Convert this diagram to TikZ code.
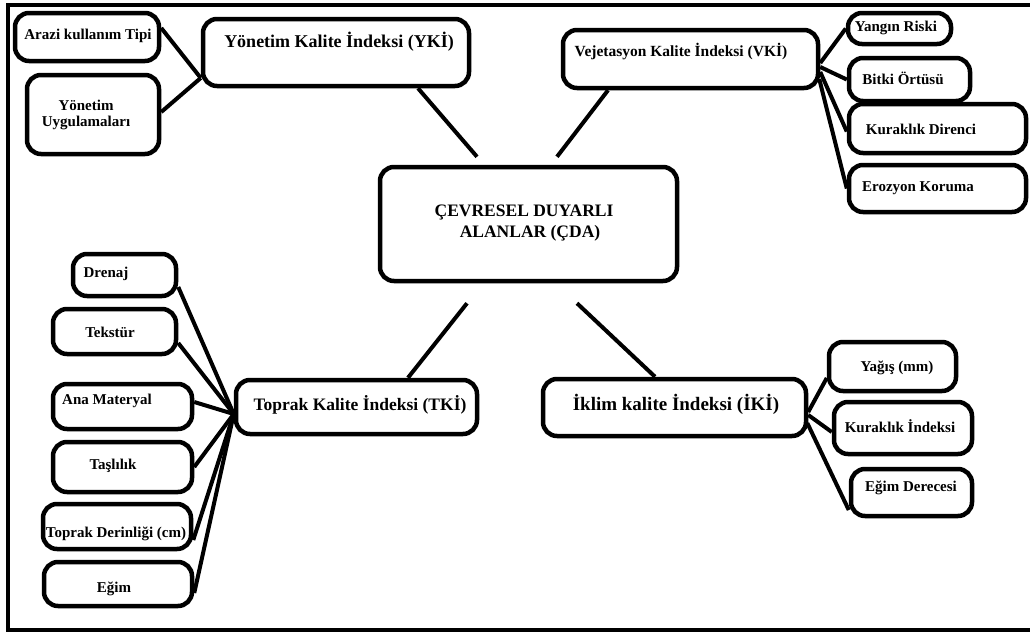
\documentclass[tikz,border=0pt]{standalone}
\usepackage{fontspec}
\setmainfont{Liberation Serif}
\begin{document}
\begin{tikzpicture}[x=1pt,y=-1pt,
  box/.style={draw, line width=4.5pt, rounded corners=14pt, inner sep=0pt},
  link/.style={line width=4pt},
  leaf/.style={inner sep=0pt, anchor=base, font=\fontsize{15pt}{16pt}\selectfont\bfseries},
  head/.style={inner sep=0pt, anchor=base, font=\fontsize{#1}{#1}\selectfont\bfseries},
]
% box from left/top/right/bottom edges
\newcommand\bx[5]{\node[box, minimum width={(#4)-(#2)}, minimum height={(#5)-(#3)}]
  (#1) at ({((#2)+(#4))/2},{((#3)+(#5))/2}) {};}
\useasboundingbox (0,0) rectangle (1030,632);
\fill[white] (0,0) rectangle (1030,632);

% frame
\draw[line width=4pt] (1030,5) -- (8,5) -- (8,630) -- (1030,630);

% centre
\bx{cda}{380}{167}{677}{281}
\node[inner sep=0pt, align=center, font=\fontsize{17.5pt}{21pt}\selectfont\bfseries]
  (cda-t) at (524,223) {ÇEVRESEL DUYARLI\\\hspace*{12pt}ALANLAR (ÇDA)};

% management index
\bx{yki}{203}{19}{469}{86}
\node[head=18pt] (yki-t) at (339,47.4) {Yönetim Kalite İndeksi (YKİ)};
\bx{arazi}{15}{13}{159}{61}
\node[leaf] (arazi-t) at (88,39.5) {Arazi kullanım Tipi};
\bx{yonuyg}{27}{75}{159}{154}
\node[inner sep=0pt, align=center, font=\fontsize{15pt}{16pt}\selectfont\bfseries]
  (yonuyg-t) at (86,115) {Yönetim\\Uygulamaları};

% vegetation index
\bx{vki}{563}{30}{818}{88}
\node[head=15.5pt] (vki-t) at (681,56.7) {Vejetasyon Kalite İndeksi (VKİ)};
\bx{yangin}{848}{13}{951}{44}
\node[leaf] (yangin-t) at (896,31.5) {Yangın Riski};
\bx{bitki}{849}{58}{970}{101}
\node[leaf] (bitki-t) at (903,84.5) {Bitki Örtüsü};
\bx{kurdir}{849}{104}{1026}{153}
\node[leaf] (kurdir-t) at (921,134.5) {Kuraklık Direnci};
\bx{erozyon}{849}{165}{1026}{212}
\node[leaf] (erozyon-t) at (918,191.5) {Erozyon Koruma};

% soil index
\bx{tki}{236}{380}{477}{434}
\node[head=17.5pt] (tki-t) at (360,410.3) {Toprak Kalite İndeksi (TKİ)};
\bx{drenaj}{73}{254}{176}{296}
\node[leaf] (drenaj-t) at (106,277.5) {Drenaj};
\bx{tekstur}{53}{309}{176}{354}
\node[leaf] (tekstur-t) at (110,337.5) {Tekstür};
\bx{anamat}{53}{384}{192}{429}
\node[leaf] (anamat-t) at (107,404.5) {Ana Materyal};
\bx{taslilik}{53}{442}{192}{492}
\node[leaf] (taslilik-t) at (113,469.5) {Taşlılık};
\bx{toprakder}{43}{504}{191}{549}
\node[leaf] (toprakder-t) at (116,537.5) {Toprak Derinliği (cm)};
\bx{egim}{44}{562}{192}{606}
\node[leaf] (egim-t) at (114,592.5) {Eğim};

% climate index
\bx{iki}{543}{379}{806}{436}
\node[head=19pt] (iki-t) at (676,410.7) {İklim kalite İndeksi (İKİ)};
\bx{yagis}{829}{342}{956}{391}
\node[leaf] (yagis-t) at (897,371.5) {Yağış (mm)};
\bx{kurind}{834}{402}{972}{454}
\node[leaf] (kurind-t) at (900,432.5) {Kuraklık İndeksi};
\bx{egimder}{851}{469}{972}{516}
\node[leaf] (egimder-t) at (911,491.5) {Eğim Derecesi};

% junctions
\coordinate (ykiJ) at ([yshift=-25.5pt]yki.west);
\coordinate (tkiJ) at ([yshift=-7pt]tki.west);

% links to the centre
\draw[link] ([xshift=82pt]yki.south) -- ([xshift=-51.5pt,yshift=8pt]cda.north);
\draw[link] ([xshift=-82.5pt]vki.south) -- ([xshift=28.5pt,yshift=8pt]cda.north);
\draw[link] ([xshift=-61.5pt,yshift=-20pt]cda.south) -- ([xshift=51.5pt]tki.north);
\draw[link] ([xshift=48.5pt,yshift=-20pt]cda.south) -- ([xshift=-19.5pt]iki.north);

% management leaves
\draw[link] ([yshift=9pt]arazi.east) -- (ykiJ);
\draw[link] ([yshift=2.5pt]yonuyg.east) -- (ykiJ);

% vegetation leaves
\draw[link] ([yshift=-4pt]vki.east) -- (yangin.west);
\draw[link] ([yshift=-8pt]vki.east) -- (bitki.west);
\draw[link] ([yshift=-13pt]vki.east) -- ([yshift=-3pt]kurdir.west);
\draw[link] ([xshift=-1pt,yshift=-20pt]vki.east) -- (erozyon.west);

% soil leaves
\draw[link] ([yshift=-12pt]drenaj.east) -- (tkiJ);
\draw[link] ([yshift=-11.5pt]tekstur.east) -- (tkiJ);
\draw[link] ([yshift=4.5pt]anamat.east) -- (tkiJ);
\draw[link] (taslilik.east) -- (tkiJ);
\draw[link] ([yshift=-13.5pt]toprakder.east) -- (tkiJ);
\draw[link] ([yshift=-9pt]egim.east) -- (tkiJ);

% climate leaves
\draw[link] ([yshift=-4.5pt]iki.east) -- ([yshift=-11.5pt]yagis.west);
\draw[link] ([yshift=-7.5pt]iki.east) -- ([yshift=-4pt]kurind.west);
\draw[link] ([xshift=-1pt,yshift=-15.5pt]iki.east) -- ([yshift=-17.5pt]egimder.west);
\end{tikzpicture}
\end{document}
